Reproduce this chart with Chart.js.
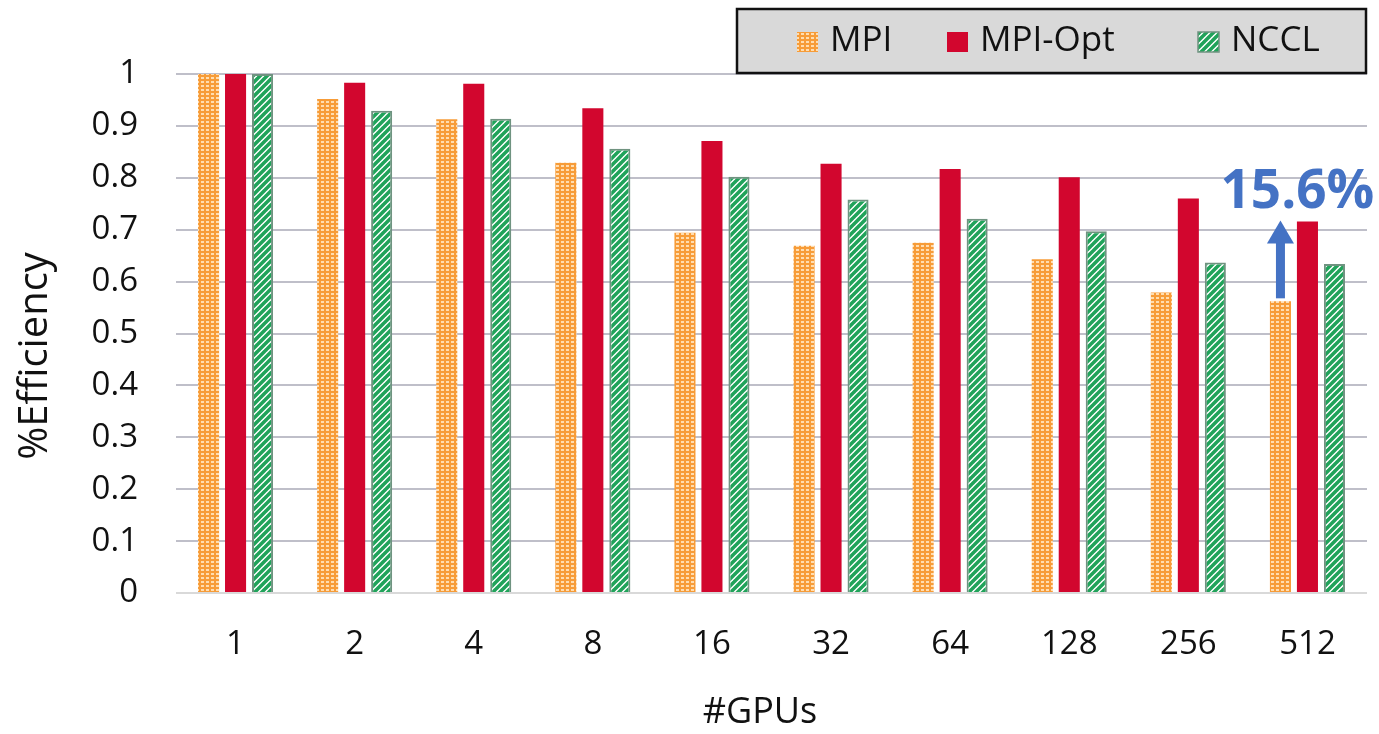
<!DOCTYPE html>
<html>
<head>
<meta charset="utf-8">
<title>%Efficiency vs #GPUs</title>
<script src="https://cdn.jsdelivr.net/npm/chart.js@4/dist/chart.umd.min.js"></script>
<style>
  html, body { margin: 0; padding: 0; background: #fff; }
  #wrap { width: 1379px; height: 734px; }
</style>
</head>
<body>
<div id="wrap"><canvas id="chart" width="1379" height="734"></canvas></div>
<script>
  // ---- data ----
  var gpus = ['1', '2', '4', '8', '16', '32', '64', '128', '256', '512'];
  var mpi = [1.0, 0.952, 0.913, 0.829, 0.694, 0.669, 0.675, 0.643, 0.579, 0.562];
  var mpiOpt = [1.0, 0.983, 0.981, 0.934, 0.871, 0.827, 0.817, 0.801, 0.760, 0.716];
  var nccl = [1.0, 0.929, 0.914, 0.856, 0.802, 0.758, 0.721, 0.697, 0.637, 0.634];
  var yTickLabels = ['0', '0.1', '0.2', '0.3', '0.4', '0.5', '0.6', '0.7', '0.8', '0.9', '1'];
  var seriesNames = ['MPI', 'MPI-Opt', 'NCCL'];
  var gainLabel = '15.6%';

  var FONT = '"Open Sans", "DejaVu Sans", sans-serif';

  // orange bar with light dots
  function dotPattern() {
    var c = document.createElement('canvas');
    c.width = 5; c.height = 4;
    var g = c.getContext('2d');
    g.fillStyle = '#F79C38';
    g.fillRect(0, 0, 5, 4);
    g.fillStyle = '#FFDDB0';
    g.fillRect(1, 1, 3, 2);
    return g.createPattern(c, 'repeat');
  }

  // white bar with green "/" stripes
  function stripePattern() {
    var s = 7;
    var c = document.createElement('canvas');
    c.width = s; c.height = s;
    var g = c.getContext('2d');
    g.fillStyle = '#ffffff';
    g.fillRect(0, 0, s, s);
    g.strokeStyle = '#20A35A';
    g.lineWidth = 3.6;
    g.beginPath();
    g.moveTo(-1, s + 1); g.lineTo(s + 1, -1);
    g.moveTo(-1, 1); g.lineTo(1, -1);
    g.moveTo(s - 1, s + 1); g.lineTo(s + 1, s - 1);
    g.stroke();
    return g.createPattern(c, 'repeat');
  }

  var fills = [dotPattern(), '#D2062E', stripePattern()];
  var borders = ['#F79C38', '#D2062E', '#6F9380'];
  var borderWidths = [0, 0, 2];

  // boxed legend sitting on top of the plot
  var boxLegend = {
    id: 'boxLegend',
    afterDraw: function(chart) {
      var ctx = chart.ctx;
      ctx.save();
      ctx.fillStyle = '#D9D9D9';
      ctx.fillRect(737, 9, 629, 64);
      ctx.strokeStyle = '#111';
      ctx.lineWidth = 2.5;
      ctx.strokeRect(737, 9, 629, 64);
      var markX = [797, 947, 1198];
      ctx.font = '35px ' + FONT;
      ctx.textBaseline = 'middle';
      ctx.textAlign = 'left';
      seriesNames.forEach(function(name, i) {
        ctx.fillStyle = fills[i];
        ctx.fillRect(markX[i], 32, 21, 20);
        if (borderWidths[i]) {
          ctx.strokeStyle = borders[i];
          ctx.lineWidth = 1.5;
          ctx.strokeRect(markX[i], 32, 21, 20);
        }
        ctx.fillStyle = '#111';
        ctx.fillText(name, markX[i] + 33, 41);
      });
      ctx.restore();
    }
  };

  // arrow from MPI to MPI-Opt on the last group, with the gain label
  var gainArrow = {
    id: 'gainArrow',
    afterDatasetsDraw: function(chart) {
      var ctx = chart.ctx;
      var yScale = chart.scales.y;
      var last = gpus.length - 1;
      var bar = chart.getDatasetMeta(0).data[last];
      var x = bar.x;
      var yFrom = yScale.getPixelForValue(mpi[last]) - 3;
      var yTo = yScale.getPixelForValue(mpiOpt[last]) - 1;
      var head = 23;
      ctx.save();
      ctx.fillStyle = '#4472C4';
      ctx.fillRect(x - 4.5, yTo + head - 1, 9, yFrom - yTo - head + 1);
      ctx.beginPath();
      ctx.moveTo(x, yTo);
      ctx.lineTo(x + 13.5, yTo + head);
      ctx.lineTo(x - 13.5, yTo + head);
      ctx.closePath();
      ctx.fill();
      ctx.font = 'bold 53px ' + FONT;
      ctx.textAlign = 'center';
      ctx.textBaseline = 'middle';
      ctx.fillText(gainLabel, x + 17, yTo - 27);
      ctx.restore();
    }
  };

  // axis titles, placed like the original
  var axisTitles = {
    id: 'axisTitles',
    afterDraw: function(chart) {
      var ctx = chart.ctx;
      ctx.save();
      ctx.fillStyle = '#111';
      ctx.textAlign = 'center';
      ctx.textBaseline = 'middle';
      ctx.font = '36px ' + FONT;
      ctx.fillText('#GPUs', 760, 713);
      ctx.translate(36, 356);
      ctx.rotate(-Math.PI / 2);
      ctx.font = '40px ' + FONT;
      ctx.fillText('%Efficiency', 0, 0);
      ctx.restore();
    }
  };

  var datasets = [mpi, mpiOpt, nccl].map(function(vals, i) {
    return {
      label: seriesNames[i],
      data: vals,
      backgroundColor: fills[i],
      borderColor: borders[i],
      borderWidth: borderWidths[i],
      categoryPercentage: 0.68,
      barPercentage: 0.78
    };
  });

  var chart = new Chart(document.getElementById('chart'), {
    type: 'bar',
    data: { labels: gpus, datasets: datasets },
    options: {
      responsive: false,
      animation: false,
      devicePixelRatio: 1,
      layout: { padding: { left: 0, right: 12, top: 74, bottom: 0 } },
      plugins: {
        legend: { display: false },
        tooltip: { enabled: false }
      },
      scales: {
        x: {
          grid: { display: false, drawTicks: false },
          border: { display: false },
          ticks: { color: '#111', font: { family: FONT, size: 33 }, padding: 32, maxRotation: 0 },
          afterFit: function(scale) { scale.height = 141; }
        },
        y: {
          min: 0,
          max: 1,
          grid: {
            drawTicks: false,
            lineWidth: 2,
            color: function(c) { return c.tick && c.tick.value === 0 ? '#D9D9D9' : '#BFBFC9'; }
          },
          border: { display: false },
          ticks: {
            stepSize: 0.1,
            color: '#111',
            padding: 38,
            font: { family: FONT, size: 33 },
            callback: function(v) { return yTickLabels[Math.round(v * 10)]; }
          },
          afterFit: function(scale) { scale.width = 176; }
        }
      }
    },
    plugins: [gainArrow, boxLegend, axisTitles]
  });
</script>
</body>
</html>
